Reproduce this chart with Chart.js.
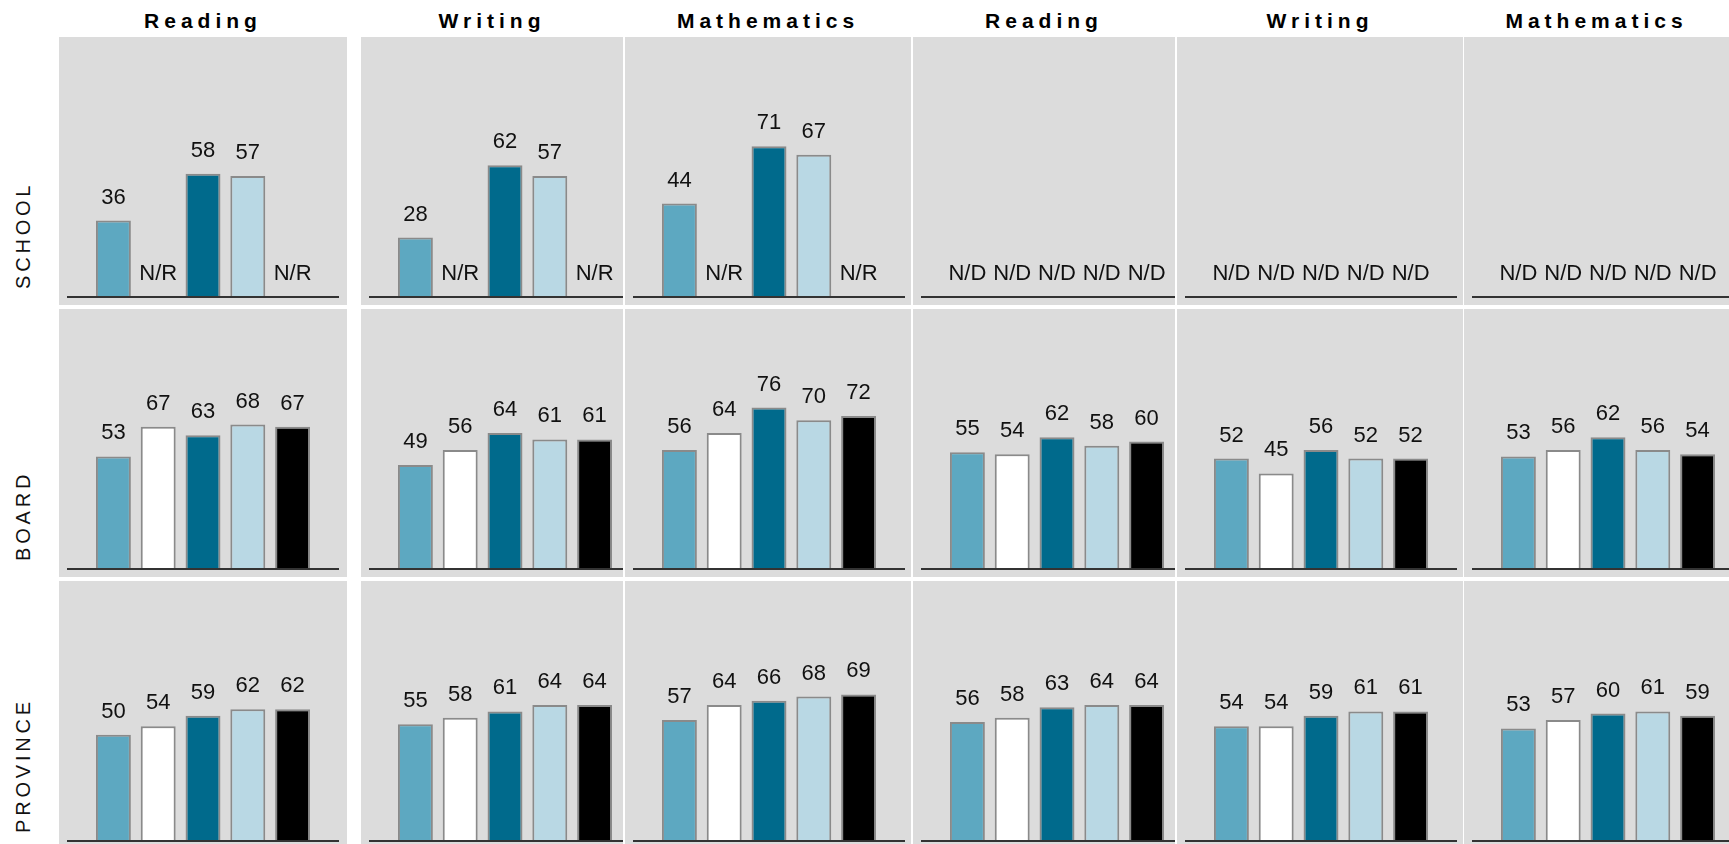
<!DOCTYPE html>
<html>
<head>
<meta charset="utf-8">
<script src="https://cdn.jsdelivr.net/npm/chart.js"></script>
<style>
  html, body { margin: 0; padding: 0; background: #fff; overflow: hidden; }
  body { width: 1729px; height: 844px; position: relative; font-family: "Liberation Sans", Arial, sans-serif; }
  .panel { position: absolute; overflow: hidden; background: #dcdcdc; }
  .title { position: absolute; top: 10px; height: 21px; line-height: 21px; font-size: 21px; font-weight: bold;
           letter-spacing: 5px; text-align: center; color: #000; white-space: nowrap; }
  .level { position: absolute; left: 13px; line-height: 20px; font-size: 20px; letter-spacing: 3.8px; color: #111;
           transform-origin: 0 0; transform: rotate(-90deg); white-space: nowrap; }
</style>
</head>
<body>
<script>
const subjects = ['Reading', 'Writing', 'Mathematics', 'Reading', 'Writing', 'Mathematics'];
const levels = ['SCHOOL', 'BOARD', 'PROVINCE'];
const years = ['1', '2', '3', '4', '5'];
const missingText = ['N/R', 'N/R', 'N/R', 'N/D', 'N/D', 'N/D'];

const school = [
  [36, null, 58, 57, null],
  [28, null, 62, 57, null],
  [44, null, 71, 67, null],
  [null, null, null, null, null],
  [null, null, null, null, null],
  [null, null, null, null, null],
];
const board = [
  [53, 67, 63, 68, 67],
  [49, 56, 64, 61, 61],
  [56, 64, 76, 70, 72],
  [55, 54, 62, 58, 60],
  [52, 45, 56, 52, 52],
  [53, 56, 62, 56, 54],
];
const province = [
  [50, 54, 59, 62, 62],
  [55, 58, 61, 64, 64],
  [57, 64, 66, 68, 69],
  [56, 58, 63, 64, 64],
  [54, 54, 59, 61, 61],
  [53, 57, 60, 61, 59],
];
const rows = [school, board, province];

// layout of the grid
const colLeft = [59, 361, 625, 913, 1177, 1464];
const colWidth = [288, 262, 286, 262, 286, 265];
const rowTop = [37, 309, 581];
const barColors = ['#5da8c1', '#ffffff', '#006a8c', '#b9d8e4', '#000000'];

const barLabels = {
  id: 'barLabels',
  afterDatasetsDraw(chart, args, opts) {
    const { ctx, chartArea } = chart;
    ctx.save();
    ctx.strokeStyle = '#333';
    ctx.lineWidth = 2;
    ctx.beginPath();
    ctx.moveTo(8, chartArea.bottom);
    ctx.lineTo(chart.width - 8, chartArea.bottom);
    ctx.stroke();

    const values = chart.data.datasets[0].data;
    const zeroY = chart.scales.y.getPixelForValue(0);
    ctx.font = '22px "Liberation Sans", Arial, sans-serif';
    ctx.fillStyle = '#111';
    ctx.textAlign = 'center';
    ctx.textBaseline = 'alphabetic';
    chart.getDatasetMeta(0).data.forEach((bar, i) => {
      const v = values[i];
      const text = v === null ? opts.missing : String(v);
      const y = v === null ? zeroY : bar.y;
      ctx.fillText(text, bar.x, y - 17);
    });
    ctx.restore();
  }
};

function makeTitle(col) {
  const div = document.createElement('div');
  div.className = 'title';
  div.style.left = colLeft[col] + 'px';
  div.style.width = colWidth[col] + 'px';
  div.textContent = subjects[col];
  document.body.appendChild(div);
}

function makeLevel(row) {
  const div = document.createElement('div');
  div.className = 'level';
  div.style.top = (rowTop[row] + 260 - 8) + 'px';
  div.textContent = levels[row];
  document.body.appendChild(div);
}

function makePanel(row, col) {
  const wrap = document.createElement('div');
  wrap.className = 'panel';
  wrap.style.left = colLeft[col] + 'px';
  wrap.style.top = rowTop[row] + 'px';
  wrap.style.width = colWidth[col] + 'px';
  wrap.style.height = '268px';
  const canvas = document.createElement('canvas');
  canvas.width = 288;
  canvas.height = 268;
  canvas.style.width = '288px';
  canvas.style.height = '268px';
  wrap.appendChild(canvas);
  document.body.appendChild(wrap);

  new Chart(canvas, {
    type: 'bar',
    data: {
      labels: years,
      datasets: [{
        data: rows[row][col],
        backgroundColor: barColors,
        borderColor: '#8a8a8a',
        borderWidth: 2,
        barPercentage: 0.78,
        categoryPercentage: 1
      }]
    },
    options: {
      responsive: false,
      animation: false,
      layout: { padding: { left: 32, right: 32, top: 5, bottom: 8 } },
      scales: {
        x: { display: false },
        y: { display: false, min: 0, max: 120 }
      },
      plugins: {
        legend: { display: false },
        tooltip: { enabled: false },
        barLabels: { missing: missingText[col] }
      }
    },
    plugins: [barLabels]
  });
}

subjects.forEach((s, col) => makeTitle(col));
levels.forEach((l, row) => {
  makeLevel(row);
  subjects.forEach((s, col) => makePanel(row, col));
});
</script>
</body>
</html>
